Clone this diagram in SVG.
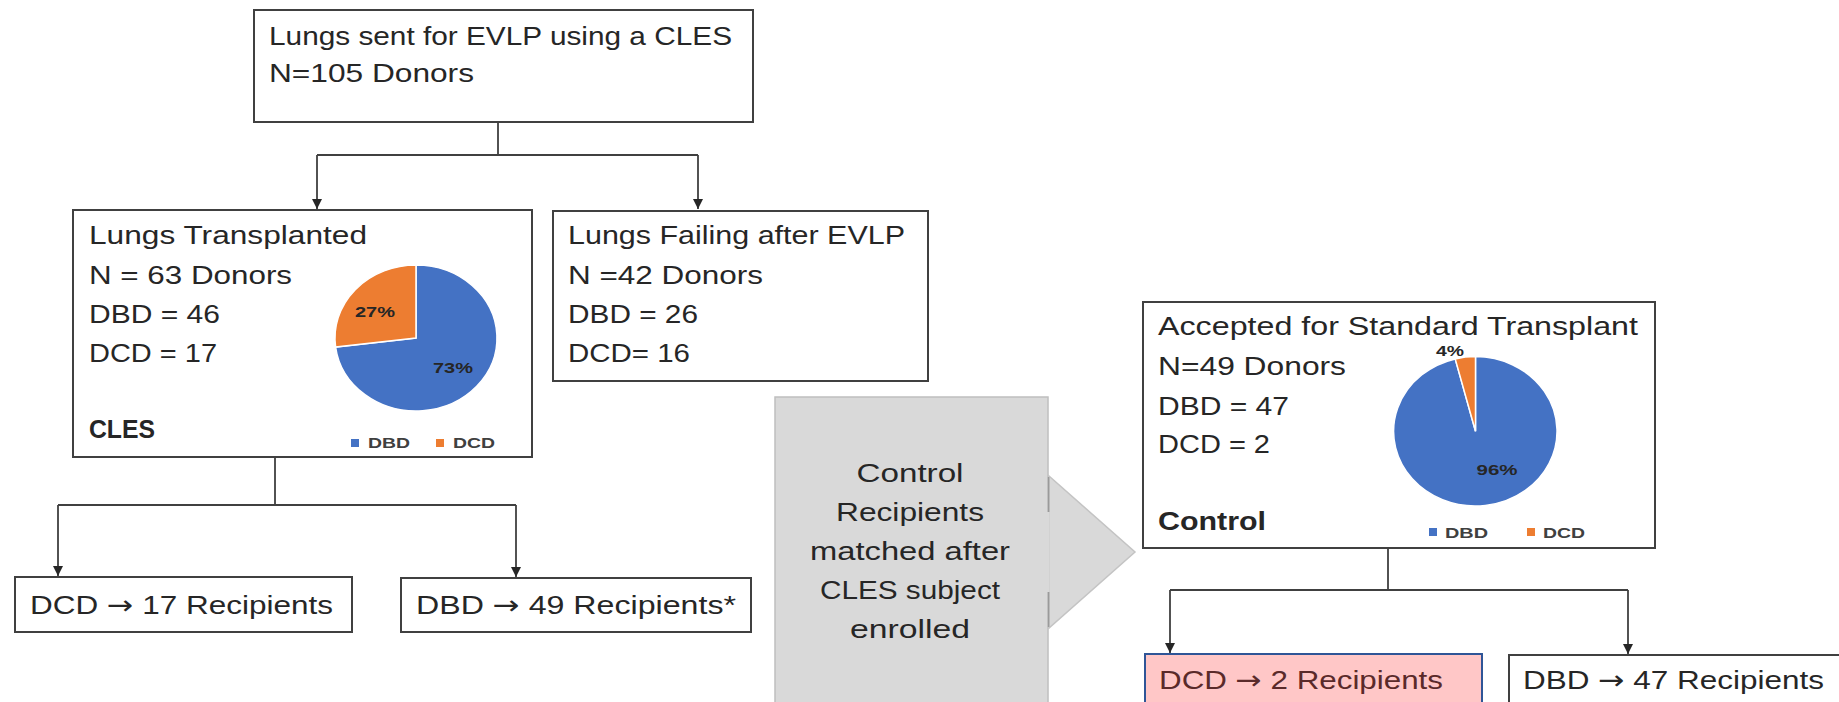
<svg xmlns="http://www.w3.org/2000/svg" width="1839" height="702" viewBox="0 0 1839 702">
<style>
.box{fill:#fff;stroke:#404040;stroke-width:2}
.t{font-family:"Liberation Sans",Arial,sans-serif;font-size:26px;fill:#262626}
.ar{font-family:"DejaVu Sans",sans-serif}
.b{font-weight:bold}
.c{fill:none;stroke:#404040;stroke-width:1.8}
.pl{font-family:"Liberation Sans",Arial,sans-serif;font-size:15px;font-weight:bold;fill:#262626;text-anchor:middle}
.lg{font-family:"Liberation Sans",Arial,sans-serif;font-size:15px;font-weight:bold;fill:#404040}
.blue{fill:#4472c4;stroke:#fff;stroke-width:1.5}
.orange{fill:#ed7d31;stroke:#fff;stroke-width:1.5}
</style>
<defs>
<marker id="ah" viewBox="0 0 10 10" refX="10" refY="5" markerWidth="10" markerHeight="10" markerUnits="userSpaceOnUse" orient="auto">
<path d="M0,0 L10,5 L0,10 Z" fill="#262626"/>
</marker>
</defs>
<rect width="1839" height="702" fill="#fff"/>

<g id="connectors">
<path class="c" d="M498,122 V155 M317,155 H698 M317,155 V209" marker-end="url(#ah)"/>
<path class="c" d="M698,155 V209" marker-end="url(#ah)"/>
<path class="c" d="M275,457 V505 M58,505 H516 M58,505 V576" marker-end="url(#ah)"/>
<path class="c" d="M516,505 V577" marker-end="url(#ah)"/>
<path class="c" d="M1388,548 V590 M1170,590 H1628 M1170,590 V653" marker-end="url(#ah)"/>
<path class="c" d="M1628,590 V654" marker-end="url(#ah)"/>
</g>

<g id="node-top">
<rect class="box" x="254" y="10" width="499" height="112"/>
<text class="t" x="269" y="45" textLength="463" lengthAdjust="spacingAndGlyphs">Lungs sent for EVLP using a CLES</text>
<text class="t" x="269" y="82" textLength="205" lengthAdjust="spacingAndGlyphs">N=105 Donors</text>
</g>

<g id="node-transplanted">
<rect class="box" x="73" y="210" width="459" height="247"/>
<text class="t" x="89" y="244" textLength="278" lengthAdjust="spacingAndGlyphs">Lungs Transplanted</text>
<text class="t" x="89" y="284" textLength="203" lengthAdjust="spacingAndGlyphs">N = 63 Donors</text>
<text class="t" x="89" y="323" textLength="131" lengthAdjust="spacingAndGlyphs">DBD = 46</text>
<text class="t" x="89" y="362" textLength="128" lengthAdjust="spacingAndGlyphs">DCD = 17</text>
<text class="t b" x="89" y="438" textLength="66" lengthAdjust="spacingAndGlyphs">CLES</text>
<path class="blue" d="M416,338 L416,265 A81,73 0 1,1 335.6,347.1 Z"/>
<path class="orange" d="M416,338 L335.6,347.1 A81,73 0 0,1 416,265 Z"/>
<text class="pl" x="375" y="317" textLength="40" lengthAdjust="spacingAndGlyphs">27%</text>
<text class="pl" x="453" y="373" textLength="40" lengthAdjust="spacingAndGlyphs">73%</text>
<rect x="351" y="439" width="8" height="8" fill="#4472c4"/>
<text class="lg" x="368" y="448" textLength="42" lengthAdjust="spacingAndGlyphs">DBD</text>
<rect x="436" y="439" width="8" height="8" fill="#ed7d31"/>
<text class="lg" x="453" y="448" textLength="42" lengthAdjust="spacingAndGlyphs">DCD</text>
</g>

<g id="node-failing">
<rect class="box" x="553" y="211" width="375" height="170"/>
<text class="t" x="568" y="244" textLength="337" lengthAdjust="spacingAndGlyphs">Lungs Failing after EVLP</text>
<text class="t" x="568" y="284" textLength="195" lengthAdjust="spacingAndGlyphs">N =42 Donors</text>
<text class="t" x="568" y="323" textLength="130" lengthAdjust="spacingAndGlyphs">DBD = 26</text>
<text class="t" x="568" y="362" textLength="122" lengthAdjust="spacingAndGlyphs">DCD= 16</text>
</g>

<g id="node-dcd17">
<rect class="box" x="15" y="577" width="337" height="55"/>
<text class="t" x="30" y="614" textLength="303" lengthAdjust="spacingAndGlyphs">DCD <tspan class="ar">→</tspan> 17 Recipients</text>
</g>

<g id="node-dbd49">
<rect class="box" x="401" y="578" width="350" height="54"/>
<text class="t" x="416" y="614" textLength="320" lengthAdjust="spacingAndGlyphs">DBD <tspan class="ar">→</tspan> 49 Recipients*</text>
</g>

<g id="node-callout">
<rect x="775" y="397" width="273" height="320" fill="#d9d9d9" stroke="#bfbfbf" stroke-width="1.5"/>
<polygon points="1049,476 1135,552 1049,628" fill="#d9d9d9" stroke="#c4c4c4" stroke-width="1.5"/>
<line x1="1048" y1="477" x2="1048" y2="627" stroke="#d9d9d9" stroke-width="3"/>
<line x1="1048.5" y1="477" x2="1048.5" y2="512" stroke="#9a9a9a" stroke-width="1.8"/>
<line x1="1048.5" y1="592" x2="1048.5" y2="627" stroke="#9a9a9a" stroke-width="1.8"/>
<g class="t" text-anchor="middle">
<text x="910" y="482" textLength="107" lengthAdjust="spacingAndGlyphs">Control</text>
<text x="910" y="521" textLength="148" lengthAdjust="spacingAndGlyphs">Recipients</text>
<text x="910" y="560" textLength="200" lengthAdjust="spacingAndGlyphs">matched after</text>
<text x="910" y="599" textLength="180" lengthAdjust="spacingAndGlyphs">CLES subject</text>
<text x="910" y="638" textLength="120" lengthAdjust="spacingAndGlyphs">enrolled</text>
</g>
</g>

<g id="node-control">
<rect class="box" x="1143" y="302" width="512" height="246"/>
<text class="t" x="1158" y="335" textLength="480" lengthAdjust="spacingAndGlyphs">Accepted for Standard Transplant</text>
<text class="t" x="1158" y="375" textLength="188" lengthAdjust="spacingAndGlyphs">N=49 Donors</text>
<text class="t" x="1158" y="415" textLength="131" lengthAdjust="spacingAndGlyphs">DBD = 47</text>
<text class="t" x="1158" y="453" textLength="112" lengthAdjust="spacingAndGlyphs">DCD = 2</text>
<text class="t b" x="1158" y="530" textLength="108" lengthAdjust="spacingAndGlyphs">Control</text>
<path class="blue" d="M1475.5,431.3 L1475.5,356.6 A81.7,74.7 0 1,1 1455.2,358.9 Z"/>
<path class="orange" d="M1475.5,431.3 L1455.2,358.9 A81.7,74.7 0 0,1 1475.5,356.6 Z"/>
<text class="pl" x="1450" y="356" font-size="13" textLength="28" lengthAdjust="spacingAndGlyphs">4%</text>
<text class="pl" x="1497" y="475" textLength="41" lengthAdjust="spacingAndGlyphs">96%</text>
<rect x="1429" y="528" width="8" height="8" fill="#4472c4"/>
<text class="lg" x="1445" y="538" textLength="43" lengthAdjust="spacingAndGlyphs">DBD</text>
<rect x="1527" y="528" width="8" height="8" fill="#ed7d31"/>
<text class="lg" x="1543" y="538" textLength="42" lengthAdjust="spacingAndGlyphs">DCD</text>
</g>

<g id="node-dcd2">
<rect x="1145" y="654" width="337" height="60" fill="#ffc7c7" stroke="#2f5597" stroke-width="2"/>
<text class="t" x="1159" y="689" style="fill:#5a2a2a" textLength="284" lengthAdjust="spacingAndGlyphs">DCD <tspan class="ar">→</tspan> 2 Recipients</text>
</g>

<g id="node-dbd47">
<rect class="box" x="1509" y="655" width="340" height="60"/>
<text class="t" x="1523" y="689" textLength="301" lengthAdjust="spacingAndGlyphs">DBD <tspan class="ar">→</tspan> 47 Recipients</text>
</g>
</svg>
